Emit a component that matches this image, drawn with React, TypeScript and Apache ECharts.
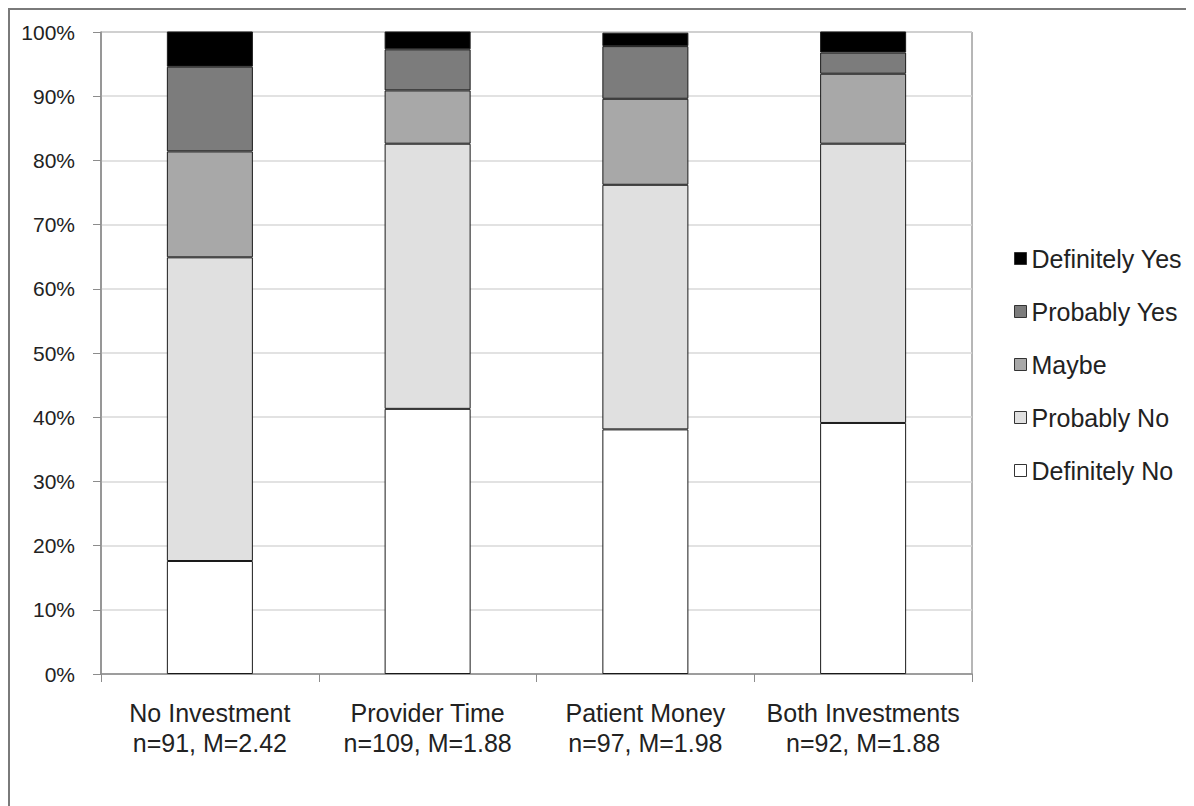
import React, { useEffect, useRef } from "react";
import * as echarts from "echarts";

const categories = [
  "No Investment\nn=91, M=2.42",
  "Provider Time\nn=109, M=1.88",
  "Patient Money\nn=97, M=1.98",
  "Both Investments\nn=92, M=1.88",
];
const seriesNames = ["Definitely No", "Probably No", "Maybe", "Probably Yes", "Definitely Yes"];
const definitelyNo = [17.6, 41.3, 38.1, 39.1];
const probablyNo = [47.3, 41.3, 38.1, 43.5];
const maybe = [16.5, 8.3, 13.4, 10.9];
const probablyYes = [13.2, 6.4, 8.2, 3.3];
const definitelyYes = [5.5, 2.8, 2.1, 3.3];
const seriesColors = ["#ffffff", "#e0e0e0", "#a8a8a8", "#7c7c7c", "#000000"];
const legendOrder = ["Definitely Yes", "Probably Yes", "Maybe", "Probably No", "Definitely No"];

export default function App() {
  const ref = useRef<HTMLDivElement>(null);
  useEffect(() => {
    if (!ref.current) return;
    const chart = echarts.init(ref.current, undefined, { renderer: "svg" });
    const values = [definitelyNo, probablyNo, maybe, probablyYes, definitelyYes];
    const font = "'Liberation Sans', Arial, sans-serif";
    chart.setOption({
      animation: false,
      backgroundColor: "#ffffff",
      textStyle: { fontFamily: font },
      graphic: [
        {
          type: "rect",
          shape: { x: 1, y: 1, width: 1400, height: 1000 },
          style: { fill: "none", stroke: "#7a7a7a", lineWidth: 2 },
          silent: true,
        },
      ],
      grid: {
        left: 93,
        top: 24,
        width: 871,
        height: 642,
        show: true,
        borderColor: "#6e6e6e",
        borderWidth: 1,
      },
      legend: {
        orient: "vertical",
        left: 1001,
        top: 233,
        itemWidth: 12,
        itemHeight: 12,
        itemGap: 28,
        icon: "rect",
        data: legendOrder,
        textStyle: { fontSize: 25, color: "#222", fontFamily: font, lineHeight: 25 },
        itemStyle: { borderColor: "#333", borderWidth: 1 },
      },
      xAxis: {
        type: "category",
        data: categories,
        axisLine: { lineStyle: { color: "#8c8c8c", width: 1.5 } },
        axisTick: { show: true, length: 8, lineStyle: { color: "#8c8c8c" } },
        axisLabel: {
          margin: 24,
          fontSize: 25,
          lineHeight: 30,
          color: "#222",
          fontFamily: font,
          interval: 0,
        },
      },
      yAxis: {
        type: "value",
        min: 0,
        max: 100,
        interval: 10,
        axisLine: { show: true, lineStyle: { color: "#8c8c8c", width: 1.5 } },
        axisTick: { show: true, length: 8, lineStyle: { color: "#8c8c8c" } },
        axisLabel: { formatter: "{value}%", fontSize: 21, color: "#222", margin: 26, fontFamily: font },
        splitLine: { lineStyle: { color: "#d9d9d9", width: 1.5 } },
      },
      series: seriesNames.map((name, i) => ({
        name,
        type: "bar",
        stack: "total",
        barWidth: "39.5%",
        data: values[i],
        itemStyle: { color: seriesColors[i], borderColor: "#1a1a1a", borderWidth: 1 },
      })),
    });
    return () => chart.dispose();
  }, []);
  return <div ref={ref} style={{ width: 1186, height: 798 }} />;
}
